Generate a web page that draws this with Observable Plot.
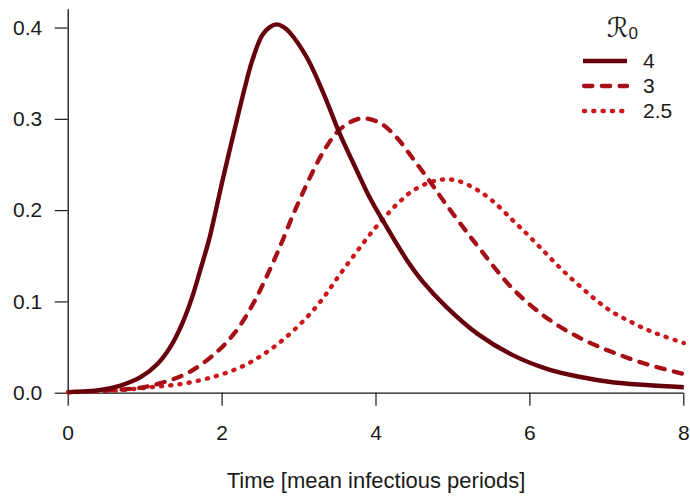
<!DOCTYPE html>
<html><head><meta charset="utf-8">
<script src="https://cdn.jsdelivr.net/npm/d3@7"></script>
<script src="https://cdn.jsdelivr.net/npm/@observablehq/plot@0.6"></script>
<style>
body{margin:0;background:#fff;}
#chart{position:relative;width:690px;height:497px;font-family:"Liberation Sans",Arial,sans-serif;color:#1a1a1a;}
#chart svg{display:block;}
g[aria-label="x-axis label"] text{font-size:22px;}
.leg{position:absolute;font-size:21px;line-height:1;color:#1a1a1a;white-space:nowrap;}
.sw{position:absolute;}
</style></head><body><div id="chart"></div>
<script>
// R0 = 4 (solid)
const t4 = [0, 0.42, 0.68, 0.94, 1.16, 1.33, 1.48, 1.61, 1.72, 1.83, 1.91, 2.00, 2.16, 2.29, 2.39, 2.52, 2.62, 2.71, 2.80, 2.88, 3.10, 3.32, 3.53, 3.75, 3.92, 4.09, 4.40, 4.61, 4.92, 5.32, 5.77, 6.21, 6.64, 7.07, 7.51, 8.0];
const v4 = [0.0012, 0.0037, 0.0084, 0.0175, 0.032, 0.051, 0.076, 0.105, 0.136, 0.168, 0.197, 0.231, 0.288, 0.333, 0.364, 0.392, 0.401, 0.404, 0.401, 0.395, 0.368, 0.328, 0.284, 0.244, 0.214, 0.189, 0.146, 0.122, 0.094, 0.065, 0.042, 0.027, 0.018, 0.012, 0.009, 0.0065];
// R0 = 3 (dashed)
const t3 = [0, 0.5, 0.94, 1.20, 1.55, 1.93, 2.19, 2.41, 2.58, 2.76, 2.91, 3.02, 3.14, 3.32, 3.53, 3.80, 4.05, 4.27, 4.48, 4.70, 4.90, 5.13, 5.36, 5.77, 6.21, 6.64, 7.07, 7.51, 8.0];
const v3 = [0.0012, 0.003, 0.006, 0.011, 0.022, 0.045, 0.069, 0.099, 0.128, 0.162, 0.193, 0.214, 0.236, 0.265, 0.289, 0.301, 0.296, 0.280, 0.257, 0.232, 0.208, 0.182, 0.157, 0.115, 0.083, 0.061, 0.045, 0.032, 0.021];
// R0 = 2.5 (dotted)
const t25 = [0, 0.6, 1.07, 1.50, 1.93, 2.28, 2.58, 2.84, 3.10, 3.32, 3.53, 3.75, 3.96, 4.18, 4.31, 4.48, 4.70, 4.86, 5.05, 5.31, 5.51, 5.77, 5.99, 6.21, 6.42, 6.64, 6.86, 7.07, 7.29, 7.51, 7.72, 8.0];
const v25 = [0.001, 0.0028, 0.0065, 0.0105, 0.019, 0.030, 0.045, 0.062, 0.083, 0.105, 0.130, 0.155, 0.178, 0.199, 0.210, 0.222, 0.231, 0.234, 0.233, 0.223, 0.211, 0.190, 0.172, 0.153, 0.135, 0.118, 0.102, 0.089, 0.079, 0.070, 0.063, 0.055];

const seriesNames = ["4", "3", "2.5"];
const xTicks = [0, 2, 4, 6, 8];
const yTicks = [0, 0.1, 0.2, 0.3, 0.4];
const xLabel = "Time [mean infectious periods]";

const series = [
  {name: "4", t: t4, v: v4, stroke: "#67000d", width: 4.4, dash: null, cap: "butt"},
  {name: "3", t: t3, v: v3, stroke: "#a50f15", width: 4.3, dash: "8.4,9.4", cap: "round"},
  {name: "2.5", t: t25, v: v25, stroke: "#cb181d", width: 4.4, dash: "1.1,8.2", cap: "round"}
];
const rows = s => s.t.map((t, i) => ({t, v: s.v[i]}));

const plot = Plot.plot({
  width: 690, height: 497,
  marginLeft: 67.7, marginRight: 6.7, marginTop: 9.3, marginBottom: 104.3,
  style: {fontFamily: "Liberation Sans, Arial, sans-serif", fontSize: "21px", color: "#1a1a1a", background: "#fff"},
  x: {domain: [0, 8]},
  y: {domain: [0, 0.42]},
  marks: [
    Plot.axisX({ticks: xTicks, tickSize: 13, tickPadding: 19, tickFormat: d => String(d), label: xLabel, labelAnchor: "center", labelArrow: "none", labelOffset: 95, strokeWidth: 1.2}),
    Plot.axisY({ticks: yTicks, tickSize: 13, tickPadding: 13, tickFormat: d => d.toFixed(1), label: null, strokeWidth: 1.2}),
    Plot.ruleX([0], {stroke: "#111", strokeWidth: 1.3}),
    Plot.ruleY([0], {stroke: "#111", strokeWidth: 1.3}),
    ...series.slice().reverse().map(s => Plot.line(rows(s), {
      x: "t", y: "v", curve: "catmull-rom",
      stroke: s.stroke, strokeWidth: s.width,
      strokeDasharray: s.dash, strokeLinecap: s.cap, strokeLinejoin: "round"
    }))
  ]
});
const chart = document.getElementById("chart");
chart.appendChild(plot);

// legend (HTML overlay)
const title = document.createElement("div");
title.className = "leg";
title.style.left = "607px"; title.style.top = "14px";
title.innerHTML = '<span style="font-family:\'DejaVu Sans\',sans-serif;font-size:27px">ℛ</span><span style="font-size:17px;position:relative;top:2px">0</span>';
chart.appendChild(title);
const rowY = [60.7, 86.3, 111];
series.forEach((s, i) => {
  const sw = document.createElementNS("http://www.w3.org/2000/svg", "svg");
  sw.setAttribute("class", "sw");
  sw.setAttribute("width", 48); sw.setAttribute("height", 10);
  sw.style.left = "581px"; sw.style.top = (rowY[i] - 5) + "px";
  const ln = document.createElementNS("http://www.w3.org/2000/svg", "line");
  ln.setAttribute("x1", s.cap === "round" ? 3 : 2); ln.setAttribute("x2", 46);
  ln.setAttribute("y1", 5); ln.setAttribute("y2", 5);
  ln.setAttribute("stroke", s.stroke); ln.setAttribute("stroke-width", s.width);
  if (s.dash) ln.setAttribute("stroke-dasharray", s.dash);
  ln.setAttribute("stroke-linecap", s.cap);
  sw.appendChild(ln);
  chart.appendChild(sw);
  const lab = document.createElement("div");
  lab.className = "leg";
  lab.textContent = seriesNames[i];
  lab.style.left = "643px"; lab.style.top = (rowY[i] - 11) + "px";
  chart.appendChild(lab);
});
</script></body></html>
